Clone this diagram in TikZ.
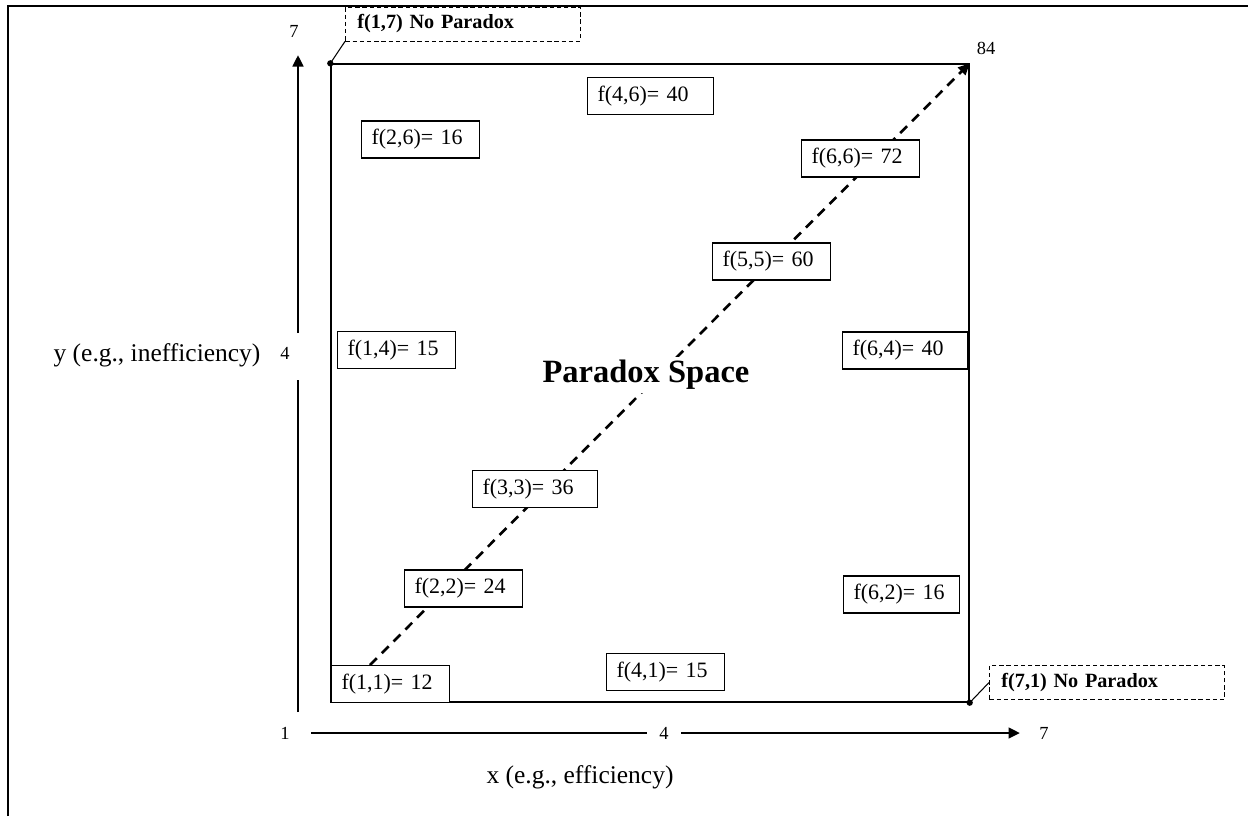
\documentclass[tikz,border=0pt]{standalone}
\usepackage{fontspec}
\setmainfont{Liberation Serif}
\usetikzlibrary{arrows.meta,positioning}

\begin{document}
\begin{tikzpicture}[x=0.02cm, y=-0.02cm, >={Triangle[length=2.3mm, width=2.1mm]},
    font=\fontsize{10.5}{12}\selectfont]
  \useasboundingbox (0,0) rectangle (1248,816);
  \tikzset{
    valbox/.style={draw, fill=white, line width=0.6pt, anchor=west, inner xsep=0.2cm,
      inner ysep=0pt, minimum height=0.74cm, text width=#1, align=left,
      font=\fontsize{12.5}{14}\selectfont},
    valbox/.default=1.96cm,
    notebox/.style={draw, dashed, dash pattern=on 2.5pt off 1.6pt, line width=0.5pt,
      anchor=west, inner xsep=0.24cm, inner ysep=0pt, minimum height=0.68cm,
      text width=4.22cm, align=left, font=\fontsize{11.5}{13}\selectfont\bfseries},
    axis/.style={line width=1.6pt}
  }

  % frame
  \draw[line width=1.4pt] (8,816) -- (8,6) -- (1248,6);

  % the space
  \node[draw, line width=0.85pt, minimum width=12.76cm, minimum height=12.76cm,
        inner sep=0pt] (space) at (650,383) {};
  \coordinate (dstart) at (370,665);
  \draw[->, line width=1.5pt, dash pattern=on 5.5pt off 4pt] (dstart) -- (space.north east);
  \node[fill=white, inner sep=2pt, font=\fontsize{18.5}{20}\selectfont\bfseries]
       (title) at (646,375) {Paradox Space};

  % values
  \node[valbox] (b26) at (361,139.5) {f(2,6)= 16};
  \node[valbox=2.12cm] (b46) at (587,96) {f(4,6)= 40};
  \node[valbox] (b66) at (801,158.5) {f(6,6)= 72};
  \node[valbox] (b55) at (712,261.5) {f(5,5)= 60};
  \node[valbox] (b14) at (337,350) {f(1,4)= 15};
  \node[valbox=2.1cm] (b64) at (842,350.5) {f(6,4)= 40};
  \node[valbox=2.1cm] (b33) at (472,489) {f(3,3)= 36};
  \node[valbox] (b22) at (404,588.5) {f(2,2)= 24};
  \node[valbox=1.92cm] (b62) at (843,594.5) {f(6,2)= 16};
  \node[valbox] (b11) at (331,684) {f(1,1)= 12};
  \node[valbox] (b41) at (606,672) {f(4,1)= 15};

  % corners
  \node[notebox] (n17) at (345,24) {f(1,7) No Paradox};
  \node[notebox] (n71) at (989,682.5) {f(7,1) No Paradox};
  \fill (space.north west) circle (1.8pt);
  \fill (space.south east) circle (1.8pt);
  \draw[line width=0.6pt] (space.north west) -- (n17.south west);
  \draw[line width=0.6pt] (space.south east) -- (n71.west);
  \node (top84) at (986,48) {84};

  % axes
  \node (y7) at (294,31) {7};
  \node (y4) at (285,353) {4};
  \node (x1) at (285,733) {1};
  \node[inner xsep=0.25cm] (x4) at (664,733) {4};
  \node (x7) at (1044,733) {7};
  \coordinate (ybot) at (298,712);
  \coordinate (ygapA) at (298,380);
  \coordinate (ygapB) at (298,333);
  \coordinate (ytop) at (298,55);
  \coordinate (xleft) at (311,733);
  \coordinate (xright) at (1020,733);
  \draw[axis] (ybot) -- (ygapA);
  \draw[axis, ->] (ygapB) -- (ytop);
  \draw[axis] (xleft) -- (x4.west);
  \draw[axis, ->] (x4.east) -- (xright);
  \node[font=\fontsize{14.5}{16}\selectfont] (ylab) at (157,355) {y (e.g., inefficiency)};
  \node[font=\fontsize{14.5}{16}\selectfont] (xlab) at (580,777) {x (e.g., efficiency)};
\end{tikzpicture}
\end{document}
